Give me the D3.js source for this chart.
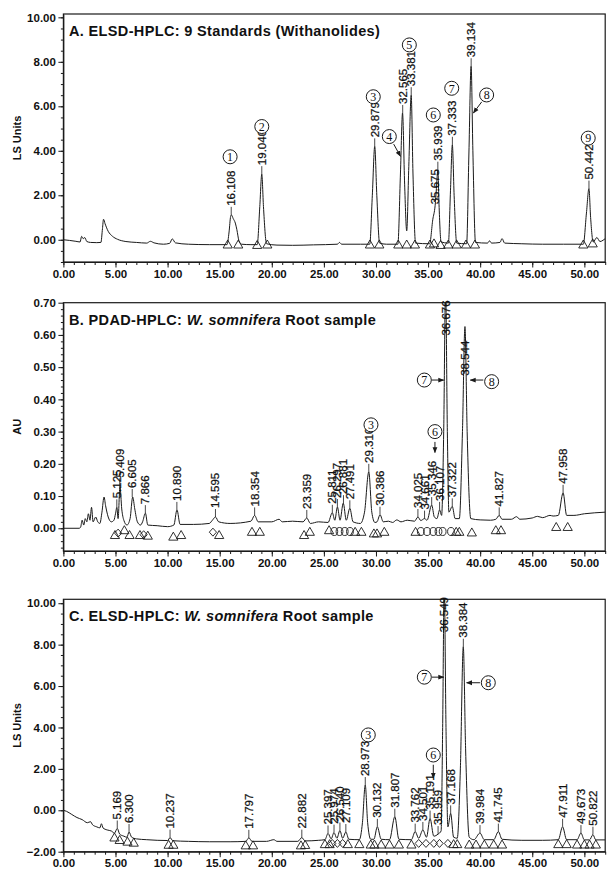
<!DOCTYPE html>
<html>
<head>
<meta charset="utf-8">
<script src="https://cdn.jsdelivr.net/npm/d3@7"></script>
<style>
  body { margin: 0; background: #fff; }
  svg text { font-family: "Liberation Sans", Arial, sans-serif; fill: #111; }
</style>
</head>
<body>
<svg id="chart" width="610" height="869"></svg>
<script>
// ---- shared axis values ----
const timeDomain = [0, 52];
const timeTicks = [0, 5, 10, 15, 20, 25, 30, 35, 40, 45, 50];

// ---- Panel A: ELSD standards ----
const yTicksA = [0, 2, 4, 6, 8, 10];
const traceA = [
  [0,0],[0.6,-0.03],[1.2,-0.07],[1.6,-0.1],[1.75,0.15],[1.9,0.05],[2.05,0.1],[2.25,-0.08],
  [2.6,-0.12],[3.2,-0.13],[3.6,-0.12],[3.75,0.5],[3.85,0.92],[4.0,0.72],[4.3,0.38],[4.7,0.16],
  [5.2,0.02],[6.0,-0.08],[7.0,-0.12],[8.0,-0.15],[8.35,-0.07],[8.7,-0.14],[9.6,-0.2],[10.2,-0.16],
  [10.45,0.04],[10.75,-0.14],[12.0,-0.2],[14.0,-0.22],[15.7,-0.22],[15.9,0.35],[16.05,1.05],
  [16.12,1.12],[16.3,0.95],[16.5,0.75],[16.65,0.45],[16.85,-0.05],[17.1,-0.2],[18.0,-0.22],
  [18.6,-0.22],[18.85,1.5],[19.04,2.95],[19.2,1.5],[19.5,-0.18],[20.5,-0.24],[22.0,-0.25],
  [24.0,-0.23],[26.3,-0.2],[26.5,-0.12],[26.7,-0.2],[28.5,-0.2],[29.4,-0.2],[29.65,2.0],
  [29.88,4.2],[30.08,2.0],[30.35,-0.15],[31.0,-0.2],[32.1,-0.2],[32.35,3.0],[32.55,5.7],
  [32.75,2.5],[32.95,0.4],[33.15,3.3],[33.38,6.5],[33.55,3.0],[33.8,-0.15],[35.15,-0.18],
  [35.45,0.9],[35.68,1.55],[35.8,2.3],[35.94,3.15],[36.05,1.6],[36.25,-0.1],[36.95,-0.15],
  [37.15,2.2],[37.33,4.27],[37.5,2.0],[37.75,-0.15],[38.7,-0.18],[38.92,3.9],[39.13,7.8],
  [39.3,4.0],[39.55,-0.12],[40.7,-0.15],[40.9,-0.05],[41.1,-0.15],[41.9,-0.12],[42.1,0.05],
  [42.35,-0.15],[44.0,-0.18],[46.0,-0.2],[48.0,-0.2],[49.9,-0.2],[50.2,1.2],[50.44,2.3],
  [50.6,1.0],[50.85,-0.1],[51.2,0.1],[51.5,-0.08],[51.8,-0.02],[52,0.05]
];
// [retention time, apex value, optional label start value]
const peaksA = [
  [16.108,1.12],[19.040,2.95],[29.879,4.2],[32.565,5.7],[33.381,6.5],[35.675,1.55,1.55],
  [35.939,3.15],[37.333,4.27],[39.134,7.8],[50.442,2.3]
];
const marksA = [
  [15.77,-0.2,"t"],[16.78,-0.2,"t"],[18.6,-0.22,"t"],[19.57,-0.2,"t"],[29.42,-0.2,"t"],
  [30.32,-0.2,"t"],[32.14,-0.2,"t"],[32.95,-0.2,"t"],[33.74,-0.2,"t"],[35.18,-0.2,"t"],
  [35.57,-0.15,"t"],[36.2,-0.22,"t"],[36.94,-0.2,"t"],[37.74,-0.2,"t"],[38.64,-0.2,"t"],
  [39.5,-0.2,"t"],[49.9,-0.2,"t"],[50.8,-0.15,"t"]
];
const circlesA = [
  ["1",16.0,3.73],["2",19.04,5.09],["3",29.74,6.43],["4",31.28,4.64],["5",33.2,8.76],
  ["6",35.5,5.61],["7",37.27,6.81],["8",40.62,6.51],["9",50.37,4.57]
];
const arrowsA = [[31.7,4.3,32.35,3.75],[40.15,6.2,39.35,5.7]];

// ---- Panel B: PDAD root sample ----
const yTicksB = [0, 0.1, 0.2, 0.3, 0.4, 0.5, 0.6, 0.7];
const traceB = [
  [0,0],[1.5,0],[1.65,0.003],[1.8,0.025],[1.95,0.01],[2.1,0.03],[2.25,0.02],[2.4,0.045],
  [2.55,0.025],[2.7,0.065],[2.85,0.02],[3.1,0.035],[3.3,0.02],[3.5,0.015],[3.7,0.05],[3.9,0.097],
  [4.05,0.07],[4.3,0.035],[4.6,0.02],[4.85,0.025],[5.0,0.045],[5.13,0.065],[5.25,0.03],
  [5.43,0.13],[5.6,0.06],[5.8,0.025],[6.1,0.01],[6.4,0.03],[6.65,0.097],[6.85,0.06],[7.1,0.02],
  [7.4,0.01],[7.6,0.02],[7.87,0.047],[8.1,0.01],[9.0,0.008],[10.0,0.005],[10.6,0.01],
  [10.9,0.057],[11.2,0.012],[12.5,0.012],[14.0,0.015],[14.3,0.025],[14.6,0.035],[14.9,0.02],
  [16.0,0.015],[18.0,0.022],[18.35,0.04],[18.7,0.02],[20.0,0.02],[20.7,0.028],[21.0,0.02],
  [22.0,0.022],[23.0,0.02],[23.36,0.032],[23.7,0.015],[24.5,0.02],[25.4,0.018],[25.81,0.048],
  [26.05,0.025],[26.3,0.066],[26.55,0.025],[26.86,0.078],[27.15,0.025],[27.49,0.062],[27.8,0.02],
  [28.5,0.015],[28.9,0.05],[29.31,0.175],[29.6,0.05],[29.9,0.018],[30.1,0.02],[30.39,0.042],
  [30.7,0.02],[31.2,0.022],[31.6,0.018],[32.0,0.026],[32.4,0.02],[33.0,0.025],[33.7,0.022],
  [34.03,0.035],[34.3,0.024],[34.66,0.03],[34.9,0.025],[35.35,0.072],[35.6,0.035],[35.85,0.03],
  [36.11,0.057],[36.3,0.04],[36.5,0.3],[36.68,0.75],[36.85,0.3],[37.0,0.05],[37.32,0.068],
  [37.6,0.03],[38.0,0.03],[38.3,0.3],[38.54,0.626],[38.75,0.3],[39.1,0.03],[40.0,0.026],
  [41.0,0.025],[41.5,0.028],[41.83,0.04],[42.1,0.028],[43.0,0.028],[43.5,0.036],[43.8,0.028],
  [45.0,0.032],[45.5,0.037],[46.0,0.033],[46.7,0.04],[47.0,0.038],[47.5,0.04],[47.96,0.11],
  [48.3,0.04],[49.0,0.04],[50.0,0.045],[51.0,0.048],[52.0,0.05]
];
const peaksB = [
  [5.125,0.065],[5.409,0.13],[6.605,0.097],[7.866,0.047],[10.890,0.057],[14.595,0.035],
  [18.354,0.04],[23.359,0.032],[25.811,0.048],[26.297,0.066],[26.881,0.078],[27.491,0.062],
  [29.310,0.175],[30.386,0.042],[34.025,0.035],[34.661,0.03],[35.346,0.072],[36.107,0.057],
  [36.676,0.75,0.595],[37.322,0.068],[38.544,0.626,0.47],[41.827,0.04],[47.958,0.11]
];
const marksB = [
  [4.95,-0.02,"t"],[5.25,-0.015,"d"],[5.85,-0.005,"t"],[6.35,-0.02,"t"],[7.35,-0.02,"t"],
  [7.7,-0.02,"d"],[8.1,-0.022,"t"],[10.55,-0.025,"t"],[11.3,-0.02,"t"],[14.35,-0.012,"d"],
  [14.95,-0.02,"t"],[18.1,-0.01,"t"],[18.85,-0.01,"t"],[23.1,-0.02,"t"],[23.65,-0.01,"t"],
  [25.5,-0.005,"t"],[26.0,-0.01,"c"],[26.5,-0.01,"c"],[27.0,-0.01,"c"],[27.5,-0.01,"c"],
  [28.0,-0.01,"t"],[28.6,-0.01,"t"],[29.8,-0.015,"t"],[30.1,-0.015,"t"],[30.8,-0.01,"t"],
  [33.8,-0.01,"t"],[34.3,-0.01,"c"],[34.9,-0.01,"c"],[35.5,-0.01,"c"],[36.0,-0.01,"c"],
  [36.4,-0.01,"c"],[37.2,-0.01,"c"],[37.7,-0.01,"t"],[38.0,-0.01,"t"],[39.2,-0.012,"t"],
  [41.5,-0.005,"t"],[42.0,-0.005,"t"],[47.3,0.005,"t"],[48.4,0.005,"t"]
];
const circlesB = [["3",29.52,0.321],["6",35.66,0.30],["7",34.64,0.46],["8",41.1,0.455]];
const arrowsB = [[35.66,0.268,35.66,0.235],[35.35,0.46,36.5,0.46],[40.3,0.46,39.05,0.46]];

// ---- Panel C: ELSD root sample ----
const yTicksC = [-2, 0, 2, 4, 6, 8, 10];
const traceC = [
  [0,0],[0.3,-0.05],[0.8,-0.2],[1.3,-0.35],[1.8,-0.45],[2.3,-0.6],[2.6,-0.55],[2.8,-0.7],
  [3.2,-0.8],[3.5,-0.85],[3.65,-0.65],[3.8,-0.85],[4.2,-0.95],[4.6,-1.0],[4.9,-1.1],[5.17,-0.88],
  [5.4,-1.15],[5.8,-1.25],[6.1,-1.3],[6.3,-1.05],[6.55,-1.3],[7.0,-1.38],[8.0,-1.42],[9.0,-1.45],
  [10.0,-1.46],[10.24,-1.32],[10.5,-1.47],[12.0,-1.5],[14.0,-1.52],[16.0,-1.52],[17.5,-1.5],
  [17.8,-1.33],[18.1,-1.5],[19.5,-1.5],[20.2,-1.42],[20.5,-1.5],[22.5,-1.5],[22.88,-1.32],
  [23.2,-1.48],[24.5,-1.45],[25.1,-1.42],[25.4,-1.12],[25.7,-1.38],[25.97,-1.08],[26.25,-1.35],
  [26.54,-0.98],[26.8,-1.35],[27.11,-1.05],[27.4,-1.4],[28.4,-1.42],[28.7,-0.6],[28.97,1.22],
  [29.2,-0.6],[29.5,-1.4],[29.8,-1.4],[30.13,-0.8],[30.5,-1.4],[31.3,-1.42],[31.81,-0.31],
  [32.2,-1.4],[33.4,-1.42],[33.76,-1.03],[34.1,-1.35],[34.5,-0.95],[34.85,-1.3],[35.19,-0.4],
  [35.55,-1.25],[35.96,-1.15],[36.25,-1.0],[36.4,4.0],[36.55,11.0],[36.72,4.0],[36.9,-0.8],
  [37.17,-0.15],[37.45,-1.3],[37.8,-1.35],[38.1,2.0],[38.38,7.9],[38.6,3.0],[38.95,-1.3],
  [39.4,-1.42],[39.98,-1.1],[40.4,-1.42],[41.3,-1.42],[41.75,-1.03],[42.1,-1.4],[44.0,-1.45],
  [46.0,-1.45],[47.5,-1.42],[47.91,-0.8],[48.3,-1.42],[49.3,-1.42],[49.67,-1.1],[50.0,-1.43],
  [50.5,-1.43],[50.82,-1.18],[51.1,-1.43],[52,-1.43]
];
const peaksC = [
  [5.169,-0.88],[6.300,-1.05],[10.237,-1.32],[17.797,-1.33],[22.882,-1.32],[25.397,-1.12],
  [25.974,-1.08],[26.540,-0.98],[27.109,-1.05],[28.973,1.22],[30.132,-0.8],[31.807,-0.31],
  [33.762,-1.03],[34.501,-0.95],[35.191,-0.4],[35.959,-1.15],[36.549,11,8.55],[37.168,-0.15],
  [38.384,7.9],[39.984,-1.1],[41.745,-1.03],[47.911,-0.8],[49.673,-1.1],[50.822,-1.18]
];
const marksC = [
  [4.9,-1.3,"t"],[5.4,-1.42,"t"],[6.15,-1.5,"t"],[6.75,-1.55,"t"],[10.1,-1.65,"t"],
  [10.55,-1.65,"t"],[17.5,-1.68,"t"],[18.2,-1.68,"t"],[22.8,-1.68,"t"],[23.2,-1.66,"t"],
  [25.1,-1.62,"t"],[25.55,-1.62,"t"],[25.8,-1.6,"d"],[26.3,-1.6,"d"],[26.8,-1.6,"d"],
  [27.3,-1.62,"t"],[28.4,-1.62,"t"],[29.5,-1.64,"t"],[29.85,-1.64,"t"],[30.5,-1.64,"t"],
  [31.3,-1.64,"t"],[32.2,-1.64,"t"],[33.4,-1.64,"t"],[34.1,-1.6,"d"],[34.8,-1.6,"d"],
  [35.55,-1.6,"d"],[36.1,-1.6,"d"],[36.9,-1.6,"d"],[37.45,-1.62,"t"],[37.8,-1.62,"t"],
  [38.95,-1.64,"t"],[39.6,-1.64,"t"],[40.4,-1.64,"t"],[41.3,-1.64,"t"],[42.1,-1.64,"t"],
  [47.5,-1.62,"t"],[48.3,-1.62,"t"],[49.3,-1.64,"t"],[50.0,-1.64,"t"],[50.5,-1.64,"t"],
  [51.1,-1.64,"t"]
];
const circlesC = [["3",29.26,3.64],["6",35.5,2.67],["7",34.64,6.43],["8",40.78,6.16]];
const arrowsC = [[35.5,2.2,35.5,1.55],[35.37,6.43,36.5,6.43],[39.98,6.16,38.7,6.16]];

// ---- panel setup ----
const panels = [
  { id: "A", top: 14, bottom: 262, yDomain: [-1.0, 10.15], yTicks: yTicksA, yMinor: 0.5,
    yLabel: "LS Units", title: [["A. ELSD-HPLC: 9 Standards (Withanolides)", false]],
    trace: traceA, peaks: peaksA, marks: marksA, circles: circlesA, arrows: arrowsA },
  { id: "B", top: 302.7, bottom: 551, yDomain: [-0.0705, 0.70], yTicks: yTicksB, yMinor: 0.02,
    yLabel: "AU", title: [["B. PDAD-HPLC: ", false], ["W. somnifera", true], [" Root sample", false]],
    trace: traceB, peaks: peaksB, marks: marksB, circles: circlesB, arrows: arrowsB },
  { id: "C", top: 599.3, bottom: 851.7, yDomain: [-2, 10.19], yTicks: yTicksC, yMinor: 0.5,
    yLabel: "LS Units", title: [["C. ELSD-HPLC: ", false], ["W. somnifera", true], [" Root sample", false]],
    trace: traceC, peaks: peaksC, marks: marksC, circles: circlesC, arrows: arrowsC }
];

const svg = d3.select("#chart");
const left = 63.4, right = 605.2;
const ink = "#1a1a1a";

svg.append("defs").append("marker")
  .attr("id", "arrow")
  .attr("viewBox", "0 0 10 10")
  .attr("refX", 9).attr("refY", 5)
  .attr("markerWidth", 6).attr("markerHeight", 6)
  .attr("orient", "auto")
  .append("path").attr("d", "M0,1L10,5L0,9Z").attr("fill", ink);

panels.forEach(p => {
  const x = d3.scaleLinear().domain(timeDomain).range([left, right]);
  const y = d3.scaleLinear().domain(p.yDomain).range([p.bottom, p.top]);
  const g = svg.append("g");

  g.append("clipPath").attr("id", "clip" + p.id)
    .append("rect").attr("x", left).attr("y", p.top)
    .attr("width", right - left).attr("height", p.bottom - p.top);

  // Y axis: minor then major ticks
  const minor = d3.range(Math.ceil(p.yDomain[0] / p.yMinor) * p.yMinor, p.yDomain[1], p.yMinor);
  g.append("g")
    .attr("transform", `translate(${left},0)`)
    .call(d3.axisLeft(y).tickValues(minor).tickSize(2.5).tickSizeOuter(0).tickFormat(""))
    .call(a => a.select(".domain").remove());
  g.append("g")
    .attr("transform", `translate(${left},0)`)
    .call(d3.axisLeft(y).tickValues(p.yTicks).tickSize(5).tickSizeOuter(0)
      .tickPadding(2.5).tickFormat(d3.format(".2f")))
    .call(a => a.selectAll("text").style("font-size", "11.5px").style("font-weight", "bold"));

  // X axis: minor every minute, major every 5
  g.append("g")
    .attr("transform", `translate(0,${p.bottom})`)
    .call(d3.axisBottom(x).tickValues(d3.range(0, 53, 1)).tickSize(3).tickSizeOuter(0).tickFormat(""))
    .call(a => a.select(".domain").remove());
  g.append("g")
    .attr("transform", `translate(0,${p.bottom})`)
    .call(d3.axisBottom(x).tickValues(timeTicks).tickSize(5.5).tickSizeOuter(0)
      .tickPadding(2).tickFormat(d3.format(".2f")))
    .call(a => a.selectAll("text").style("font-size", "11.5px").style("font-weight", "bold"));

  g.selectAll(".tick line, .domain").attr("stroke", ink);

  // frame
  g.append("rect")
    .attr("x", left).attr("y", p.top)
    .attr("width", right - left).attr("height", p.bottom - p.top)
    .attr("fill", "none").attr("stroke", ink).attr("stroke-width", 1.2);

  // y label
  g.append("text")
    .attr("transform", `translate(21,${(p.top + p.bottom) / 2}) rotate(-90)`)
    .attr("text-anchor", "middle")
    .style("font-size", "11px").style("font-weight", "bold")
    .text(p.yLabel);

  // title
  const t = g.append("text")
    .attr("x", 69).attr("y", p.top + 22)
    .style("font-size", "14.5px").style("font-weight", "bold")
    .style("letter-spacing", "0.35px");
  p.title.forEach(([s, it]) => t.append("tspan").style("font-style", it ? "italic" : "normal").text(s));

  // trace
  const line = d3.line().x(d => x(d[0])).y(d => y(d[1])).curve(d3.curveMonotoneX);
  g.append("path")
    .datum(p.trace)
    .attr("clip-path", `url(#clip${p.id})`)
    .attr("d", line)
    .attr("fill", "none").attr("stroke", ink).attr("stroke-width", 1);

  // baseline markers
  const shape = {
    t: "M0,-4.2L4.6,3.8L-4.6,3.8Z",
    d: "M0,-4L3.6,0L0,4L-3.6,0Z",
    c: "M-3.4,0A3.4,4 0 1,0 3.4,0A3.4,4 0 1,0 -3.4,0Z"
  };
  g.selectAll(".mark").data(p.marks).enter().append("path")
    .attr("transform", d => `translate(${x(d[0])},${y(d[1])})`)
    .attr("d", d => shape[d[2]])
    .attr("fill", "none").attr("stroke", ink).attr("stroke-width", 0.9);

  // peak labels
  p.peaks.forEach(d => {
    const px = x(d[0]), py = y(d[1]);
    let base;
    if (d[2] !== undefined) {
      base = y(d[2]);
    } else {
      base = Math.max(py - 8, p.top + 2);
      g.append("line").attr("x1", px).attr("x2", px).attr("y1", py).attr("y2", base)
        .attr("stroke", ink).attr("stroke-width", 0.8);
    }
    g.append("text")
      .attr("transform", `translate(${px + 4},${base - 1}) rotate(-90)`)
      .style("font-size", "11.5px")
      .style("stroke", "#111").style("stroke-width", "0.25px")
      .text(d[0].toFixed(3));
  });

  // arrows
  g.selectAll(".arr").data(p.arrows).enter().append("line")
    .attr("x1", d => x(d[0])).attr("y1", d => y(d[1]))
    .attr("x2", d => x(d[2])).attr("y2", d => y(d[3]))
    .attr("stroke", ink).attr("stroke-width", 1)
    .attr("marker-end", "url(#arrow)");

  // circled compound numbers
  const c = g.selectAll(".cn").data(p.circles).enter().append("g")
    .attr("transform", d => `translate(${x(d[1])},${y(d[2])})`);
  c.append("circle").attr("r", 7).attr("fill", "#fff").attr("stroke", ink).attr("stroke-width", 1);
  c.append("text").attr("text-anchor", "middle").attr("dy", "0.36em")
    .style("font-family", "'Liberation Serif', 'Times New Roman', serif")
    .style("font-size", "12px")
    .text(d => d[0]);
});
</script>
</body>
</html>
